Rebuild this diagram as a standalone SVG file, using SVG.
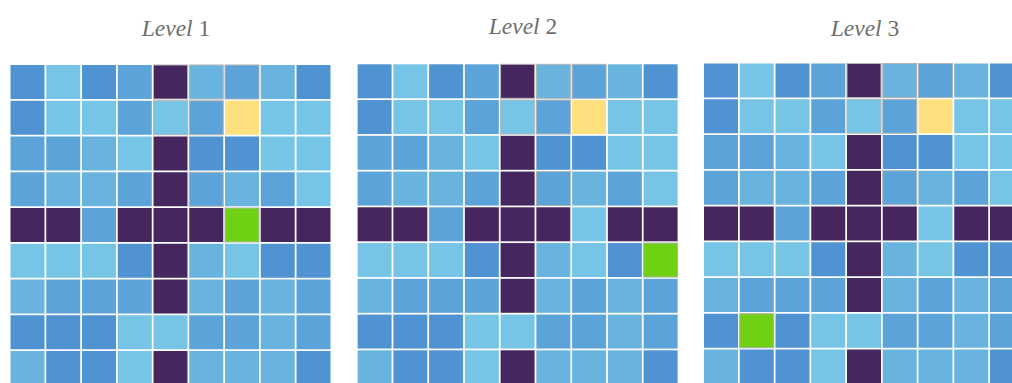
<svg xmlns="http://www.w3.org/2000/svg" xmlns:xlink="http://www.w3.org/1999/xlink" width="1012" height="383" viewBox="0 0 1012 383">
<style>
.a{fill:#4f93d2}.b{fill:#5ba3d8}.c{fill:#68b4de}.d{fill:#76c5e6}.p{fill:#46265f}.y{fill:#fee17e}.g{fill:#6fd014}
.h{stroke:#b4b4b4;stroke-width:1}
.t{font-family:"Liberation Serif","Times New Roman",serif;font-size:23.5px;fill:#6e6e6e;text-anchor:middle}
.t tspan{font-style:italic}
</style>
<defs>
<g id="base">
<g transform="translate(0,1)">
<rect x="1" width="34" height="34" class="a"/><rect x="36.75" width="34" height="34" class="d"/><rect x="72.5" width="34" height="34" class="a"/><rect x="108.25" width="34" height="34" class="b"/><rect x="144" width="34" height="34" class="p h"/><rect x="179.75" width="34" height="34" class="c h"/><rect x="215.5" width="34" height="34" class="b h"/><rect x="251.25" width="34" height="34" class="c"/><rect x="287" width="34" height="34" class="a"/>
</g>
<g transform="translate(0,36.75)">
<rect x="1" width="34" height="34" class="a"/><rect x="36.75" width="34" height="34" class="d"/><rect x="72.5" width="34" height="34" class="d"/><rect x="108.25" width="34" height="34" class="b"/><rect x="144" width="34" height="34" class="d h"/><rect x="179.75" width="34" height="34" class="b h"/><rect x="215.5" width="34" height="34" class="y"/><rect x="251.25" width="34" height="34" class="d"/><rect x="287" width="34" height="34" class="d"/>
</g>
<g transform="translate(0,72.5)">
<rect x="1" width="34" height="34" class="b"/><rect x="36.75" width="34" height="34" class="b"/><rect x="72.5" width="34" height="34" class="c"/><rect x="108.25" width="34" height="34" class="d"/><rect x="144" width="34" height="34" class="p"/><rect x="179.75" width="34" height="34" class="a"/><rect x="215.5" width="34" height="34" class="a"/><rect x="251.25" width="34" height="34" class="d"/><rect x="287" width="34" height="34" class="d"/>
</g>
<g transform="translate(0,108.25)">
<rect x="1" width="34" height="34" class="b"/><rect x="36.75" width="34" height="34" class="c"/><rect x="72.5" width="34" height="34" class="c"/><rect x="108.25" width="34" height="34" class="b"/><rect x="144" width="34" height="34" class="p"/><rect x="179.75" width="34" height="34" class="b h"/><rect x="215.5" width="34" height="34" class="c"/><rect x="251.25" width="34" height="34" class="b"/><rect x="287" width="34" height="34" class="d"/>
</g>
<g transform="translate(0,144)">
<rect x="1" width="34" height="34" class="p"/><rect x="36.75" width="34" height="34" class="p"/><rect x="72.5" width="34" height="34" class="b"/><rect x="108.25" width="34" height="34" class="p"/><rect x="144" width="34" height="34" class="p"/><rect x="179.75" width="34" height="34" class="p"/><rect x="215.5" width="34" height="34" class="d"/><rect x="251.25" width="34" height="34" class="p"/><rect x="287" width="34" height="34" class="p"/>
</g>
<g transform="translate(0,179.75)">
<rect x="1" width="34" height="34" class="d"/><rect x="36.75" width="34" height="34" class="d"/><rect x="72.5" width="34" height="34" class="d"/><rect x="108.25" width="34" height="34" class="a"/><rect x="144" width="34" height="34" class="p"/><rect x="179.75" width="34" height="34" class="c"/><rect x="215.5" width="34" height="34" class="d"/><rect x="251.25" width="34" height="34" class="a"/><rect x="287" width="34" height="34" class="a"/>
</g>
<g transform="translate(0,215.5)">
<rect x="1" width="34" height="34" class="c"/><rect x="36.75" width="34" height="34" class="b"/><rect x="72.5" width="34" height="34" class="b"/><rect x="108.25" width="34" height="34" class="b"/><rect x="144" width="34" height="34" class="p"/><rect x="179.75" width="34" height="34" class="c"/><rect x="215.5" width="34" height="34" class="b"/><rect x="251.25" width="34" height="34" class="c"/><rect x="287" width="34" height="34" class="b"/>
</g>
<g transform="translate(0,251.25)">
<rect x="1" width="34" height="34" class="a"/><rect x="36.75" width="34" height="34" class="a"/><rect x="72.5" width="34" height="34" class="a"/><rect x="108.25" width="34" height="34" class="d"/><rect x="144" width="34" height="34" class="d"/><rect x="179.75" width="34" height="34" class="b"/><rect x="215.5" width="34" height="34" class="b"/><rect x="251.25" width="34" height="34" class="c"/><rect x="287" width="34" height="34" class="b"/>
</g>
<g transform="translate(0,287)">
<rect x="1" width="34" height="34" class="c"/><rect x="36.75" width="34" height="34" class="a"/><rect x="72.5" width="34" height="34" class="a"/><rect x="108.25" width="34" height="34" class="d"/><rect x="144" width="34" height="34" class="p"/><rect x="179.75" width="34" height="34" class="c"/><rect x="215.5" width="34" height="34" class="c"/><rect x="251.25" width="34" height="34" class="c"/><rect x="287" width="34" height="34" class="a"/>
</g>
</g>
</defs>
<rect width="1012" height="383" fill="#ffffff"/>
<g id="level1" transform="translate(9.5,64)">
<use xlink:href="#base" href="#base"/>
<rect x="215.5" y="144" width="34" height="34" class="g h"/>
</g>
<g id="level2" transform="translate(356.6,63.3)">
<use xlink:href="#base" href="#base"/>
<rect x="287" y="179.75" width="34" height="34" class="g h"/>
</g>
<g id="level3" transform="translate(703,62.5)">
<use xlink:href="#base" href="#base"/>
<rect x="36.75" y="251.25" width="34" height="34" class="g h"/>
</g>
<g id="titles">
<text class="t" x="176" y="35.5"><tspan>Level</tspan> 1</text>
<text class="t" x="523" y="34"><tspan>Level</tspan> 2</text>
<text class="t" x="865" y="35.5"><tspan>Level</tspan> 3</text>
</g>
</svg>
